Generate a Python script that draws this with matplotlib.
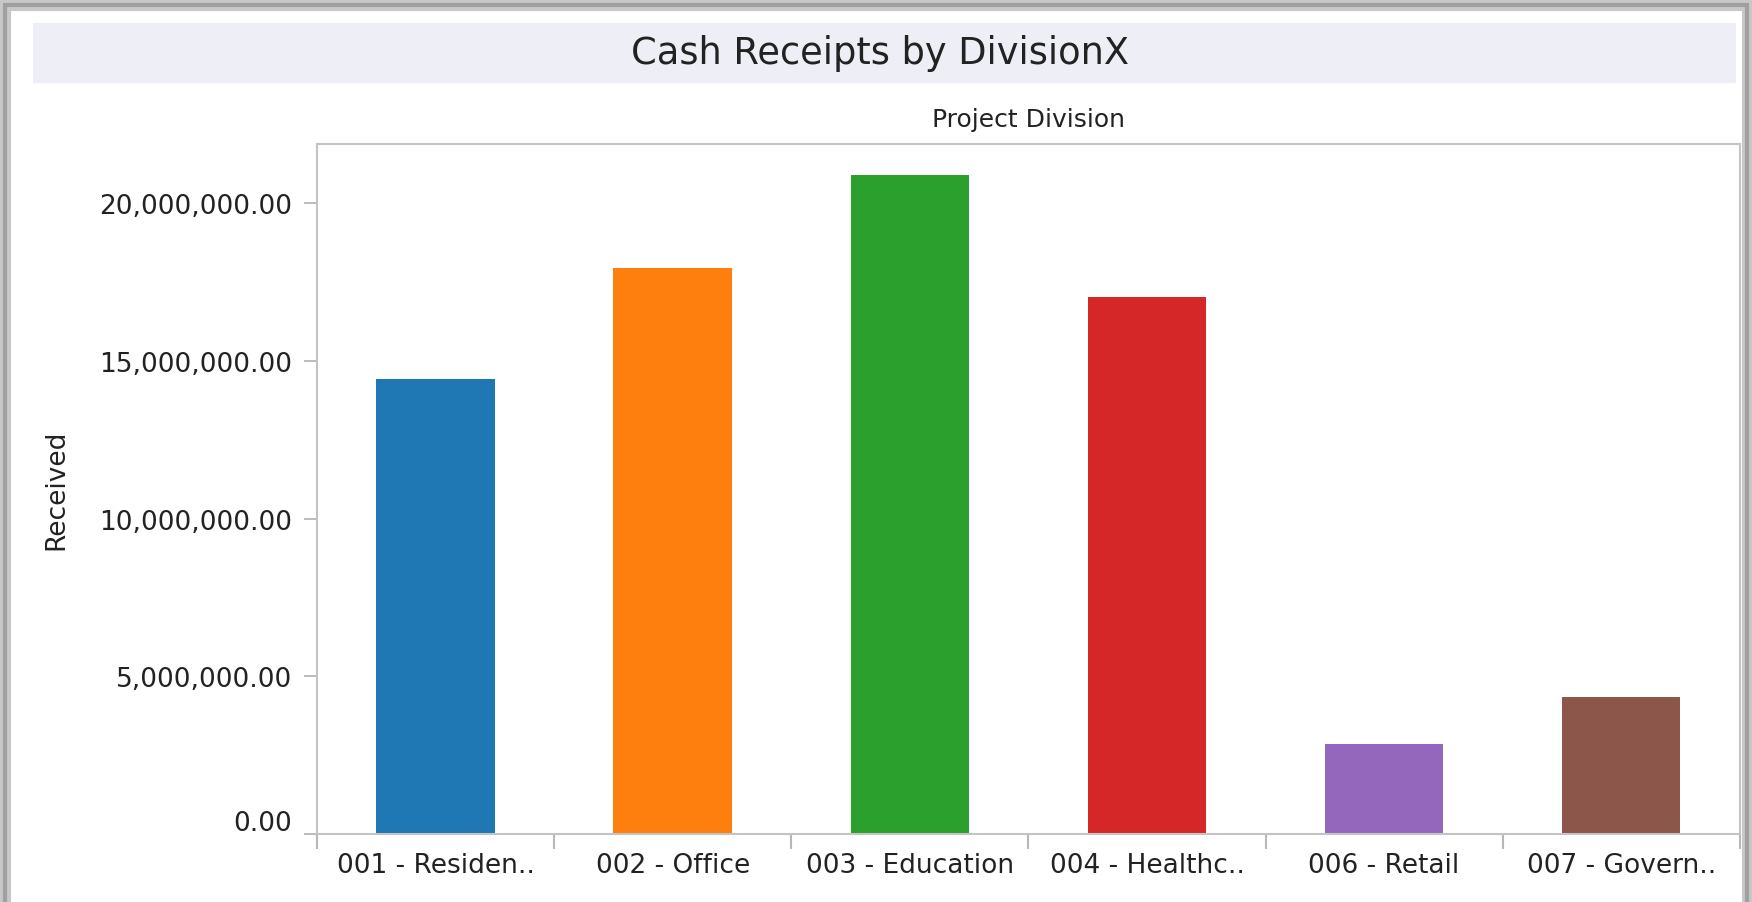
import matplotlib.pyplot as plt
from matplotlib.patches import Rectangle
from matplotlib.ticker import FuncFormatter, FixedLocator
import matplotlib.transforms as mtransforms

plt.rcParams['font.family'] = ['DejaVu Sans']

divisions = ['001 - Residen..', '002 - Office', '003 - Education',
             '004 - Healthc..', '006 - Retail', '007 - Govern..']
received = [14.43e6, 17.94e6, 20.89e6, 17.02e6, 2.84e6, 4.33e6]
colors = ['#1f77b4', '#ff7f0e', '#2ca02c', '#d62728', '#9467bd', '#8c564b']
yticks = [0, 5e6, 10e6, 15e6, 20e6]

fig = plt.figure(figsize=(17.52, 9.03), dpi=100)
ax = fig.add_axes([0.181, 0.0753, 0.812, 0.764])

# outer window frame (with a bit of shadow) and title band
fig.patches.append(Rectangle((0.003, -0.02), 0.994, 1.013, transform=fig.transFigure,
                             fill=False, edgecolor='#c8c8c8', linewidth=8))
fig.patches.append(Rectangle((0.003, -0.02), 0.994, 1.013, transform=fig.transFigure,
                             fill=False, edgecolor='#a0a0a0', linewidth=3))
fig.patches.append(Rectangle((0.019, 0.907), 0.972, 0.066, transform=fig.transFigure,
                             facecolor='#eeeff6', edgecolor='none'))
fig.text(0.502, 0.9405, 'Cash Receipts by DivisionX', ha='center', va='center',
         fontsize=26.5, color='#222222')

x = list(range(len(divisions)))
ax.bar(x, received, width=0.5, color=colors)

ax.set_xlim(-0.5, 5.5)
ax.set_ylim(0, 21.88e6)

ax.set_yticks(yticks)
ax.yaxis.set_major_formatter(FuncFormatter(lambda v, p: '{:,.2f}'.format(v)))
ax.tick_params(axis='y', length=9.5, width=1.2, color='#b0b0b0', pad=8.5,
               labelsize=19, labelcolor='#222222')
# shift the zero label up off the axis line
zero_lab = ax.get_yticklabels()[0]
zero_lab.set_transform(zero_lab.get_transform() +
                       mtransforms.ScaledTranslation(0, 14 / 100, fig.dpi_scale_trans))

ax.set_xticks(x)
ax.set_xticklabels(divisions)
ax.xaxis.set_minor_locator(FixedLocator([i - 0.5 for i in range(len(divisions) + 1)]))
ax.tick_params(axis='x', which='major', length=0, pad=13, labelsize=19, labelcolor='#222222')
ax.tick_params(axis='x', which='minor', length=11, width=1.5, color='#b8b8b8')

for s in ax.spines.values():
    s.set_color('#c4c4c4')
    s.set_linewidth(1.5)

ax.set_title('Project Division', fontsize=18, color='#222222', pad=13)
ax.set_ylabel('Received', fontsize=19, color='#222222')
ax.yaxis.set_label_coords(-0.1744, 0.5)

fig.savefig('out.png', dpi=100)
